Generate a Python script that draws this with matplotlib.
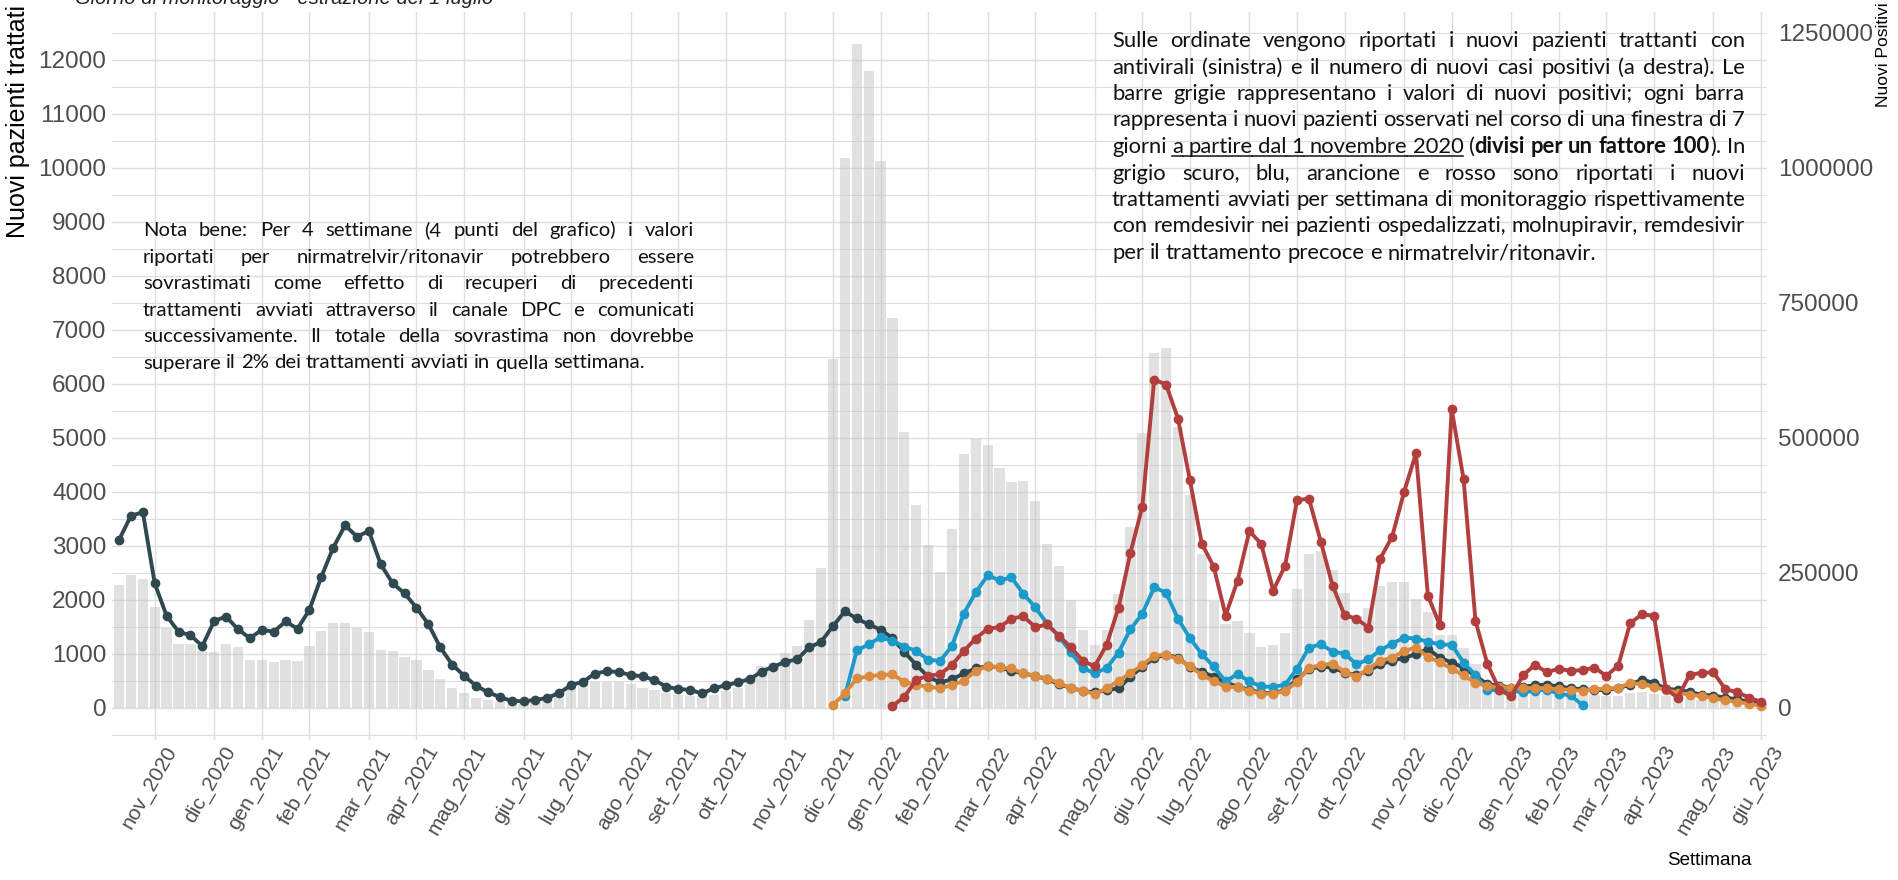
import re
import numpy as np
import matplotlib
matplotlib.use("Agg")
import matplotlib.pyplot as plt
import matplotlib.transforms as mtransforms
from matplotlib.lines import Line2D

# ---- data ----
month_ticks = [3, 8, 12, 16, 21, 25, 29, 34, 38, 43, 47, 51, 56, 60, 64, 68, 73, 77,
               82, 86, 90, 95, 99, 103, 108, 112, 117, 121, 125, 129, 134, 138]
month_labels = ["nov_2020", "dic_2020", "gen_2021", "feb_2021", "mar_2021", "apr_2021",
                "mag_2021", "giu_2021", "lug_2021", "ago_2021", "set_2021", "ott_2021",
                "nov_2021", "dic_2021", "gen_2022", "feb_2022", "mar_2022", "apr_2022",
                "mag_2022", "giu_2022", "lug_2022", "ago_2022", "set_2022", "ott_2022",
                "nov_2022", "dic_2022", "gen_2023", "feb_2023", "mar_2023", "apr_2023",
                "mag_2023", "giu_2023"]

# weekly new positives divided by 100 (weeks 0..138)
nuovi_positivi = [
    2265, 2450, 2390, 1870, 1480, 1175, 1175, 1045, 1035, 1185,
    1125, 885, 885, 850, 875, 865, 1140, 1420, 1575, 1570,
    1480, 1405, 1060, 1050, 940, 875, 690, 525, 365, 262,
    185, 145, 105, 80, 70, 90, 150, 225, 365, 450,
    470, 465, 478, 440, 370, 327, 265, 228, 210, 210,
    230, 310, 365, 570, 775, 820, 1020, 1140, 1620, 2590,
    6460, 10170, 12280, 11780, 10120, 7220, 5110, 3750, 3010, 2520,
    3300, 4690, 4980, 4870, 4440, 4180, 4190, 3820, 3030, 2615,
    1990, 1444, 1167, 1437, 2100, 3345, 5080, 6560, 6665, 5200,
    3935, 2850, 1975, 1545, 1605, 1390, 1130, 1160, 1390, 2190,
    2835, 2900, 2545, 2117, 1700, 1840, 2255, 2325, 2320, 2010,
    1775, 1346, 1343, 1095, 810, 480, 370, 340, 309, 290,
    278, 265, 247, 247, 228, 216, 216, 265, 290, 247,
    216, 185, 154, 142, 123, 105, 93, 80, 62,
]

# remdesivir, hospitalised patients (weeks 0..138)
remdesivir_osp = [
    3105, 3550, 3620, 2300, 1700, 1405, 1340, 1140, 1605, 1685,
    1450, 1285, 1440, 1405, 1595, 1460, 1810, 2420, 2960, 3375,
    3165, 3270, 2650, 2300, 2115, 1850, 1545, 1115, 795, 590,
    405, 285, 195, 123, 117, 142, 180, 272, 417, 481,
    630, 673, 660, 602, 580, 509, 385, 346, 327, 262,
    358, 414, 470, 525, 667, 759, 846, 895, 1115, 1215,
    1510, 1780, 1650, 1540, 1443, 1287, 1027, 791, 571, 465,
    522, 633, 724, 770, 743, 680, 633, 587, 524, 435,
    363, 310, 280, 324, 355, 571, 755, 918, 981, 926,
    748, 660, 574, 463, 389, 327, 278, 265, 327, 525,
    710, 759, 741, 648, 599, 679, 802, 864, 926, 988,
    1085, 926, 833, 741, 586, 432, 407, 370, 386, 414,
    426, 392, 361, 340, 327, 325, 361, 426, 518, 457,
    352, 327, 290, 238, 222, 185, 154, 105, 62,
]

# molnupiravir (weeks 61..123)
molnupiravir_start = 61
molnupiravir = [
    208, 1058, 1170, 1302, 1233, 1131, 1048, 888, 863,
    1139, 1739, 2135, 2448, 2356, 2411, 2107, 1857, 1554, 1316,
    1025, 732, 634, 732, 1020, 1449, 1740, 2226, 2128, 1641,
    1287, 991, 761, 484, 622, 485, 392, 383, 426, 717,
    1111, 1173, 1037, 1000, 802, 895, 1062, 1185, 1296, 1278,
    1220, 1170, 1163, 833, 600, 318, 334, 309, 284, 309,
    334, 256, 228, 43,
]

# remdesivir, early treatment (weeks 60..138)
remdesivir_precoce_start = 60
remdesivir_precoce = [
    48, 262, 539, 578, 605, 616, 476, 423, 388, 355,
    420, 494, 680, 770, 743, 724, 633, 587, 533, 463,
    355, 310, 256, 355, 494, 641, 786, 962, 981, 899,
    771, 599, 494, 383, 383, 309, 259, 259, 309, 475,
    741, 784, 815, 660, 568, 722, 864, 926, 1049, 1111,
    935, 840, 722, 595, 460, 401, 377, 370, 361, 361,
    361, 340, 327, 309, 340, 355, 364, 457, 432, 383,
    327, 278, 238, 216, 176, 133, 108, 71, 31,
]

# nirmatrelvir/ritonavir (weeks 65..138)
nirmatrelvir_start = 65
nirmatrelvir = [
    27, 200, 513, 593, 618,
    789, 1048, 1278, 1461, 1489, 1646, 1693, 1489, 1540, 1327,
    1117, 864, 762, 1165, 1848, 2865, 3720, 6075, 5982, 5348,
    4212, 3036, 2609, 1705, 2348, 3271, 3026, 2166, 2628, 3838,
    3870, 3074, 2253, 1710, 1648, 1481, 2759, 3167, 3994, 4710,
    2074, 1528, 5525, 4228, 1605, 808, 335, 210, 599, 793,
    654, 722, 679, 695, 741, 586, 778, 1562, 1730, 1698,
    340, 185, 608, 642, 654, 340, 284, 185, 105,
]

note_right = [
    "Sulle ordinate vengono riportati i nuovi pazienti trattanti con",
    "antivirali (sinistra) e il numero di nuovi casi positivi (a destra). Le",
    "barre grigie rappresentano i valori di nuovi positivi; ogni barra",
    "rappresenta i nuovi pazienti osservati nel corso di una finestra di 7",
    "giorni {u:a partire dal 1 novembre 2020} ({b:divisi per un fattore 100}). In",
    "grigio scuro, blu, arancione e rosso sono riportati i nuovi",
    "trattamenti avviati per settimana di monitoraggio rispettivamente",
    "con remdesivir nei pazienti ospedalizzati, molnupiravir, remdesivir",
    "per il trattamento precoce e nirmatrelvir/ritonavir.",
]
note_left = [
    "Nota bene: Per 4 settimane (4 punti del grafico) i valori",
    "riportati per nirmatrelvir/ritonavir potrebbero essere",
    "sovrastimati come effetto di recuperi di precedenti",
    "trattamenti avviati attraverso il canale DPC e comunicati",
    "successivamente. Il totale della sovrastima non dovrebbe",
    "superare il 2% dei trattamenti avviati in quella settimana.",
]

# ---- figure ----
W, H = 1899, 880
fig = plt.figure(figsize=(W / 100, H / 100), dpi=100)
ax = fig.add_axes([112 / W, (H - 740) / H, (1767 - 112) / W, (740 - 12) / H])

axis_font = "Liberation Sans"
tick_col = "#4D4D4D"
grid_col = "#DEDEDE"

weeks = np.arange(len(nuovi_positivi))
ax.bar(weeks, nuovi_positivi, width=0.86, color="#C4C4C4", alpha=0.5, zorder=2, linewidth=0)


def series(start, vals, color, z):
    x = np.arange(start, start + len(vals))
    ax.plot(x, vals, "-o", color=color, lw=2.8, ms=6, zorder=z)


series(0, remdesivir_osp, "#304850", 3)
series(molnupiravir_start, molnupiravir, "#1C9ACA", 4)
series(remdesivir_precoce_start, remdesivir_precoce, "#DB8C40", 5)
series(nirmatrelvir_start, nirmatrelvir, "#B03F3D", 6)

ax.set_xlim(-0.59, 138.5)
ax.set_ylim(-600, 12880)
ax.set_yticks(np.arange(0, 12001, 1000))
ax.set_yticks(np.arange(-500, 12501, 1000), minor=True)
ax.set_xticks(month_ticks)
ax.set_xticklabels(month_labels, rotation=60, ha="right", va="top",
                   rotation_mode="anchor")
ax.grid(which="major", color=grid_col, lw=1.0, zorder=0)
ax.grid(which="minor", axis="y", color=grid_col, lw=0.8, zorder=0)
ax.set_axisbelow(True)
ax.tick_params(axis="both", which="both", length=0, colors=tick_col)
ax.tick_params(axis="y", pad=4, labelsize=17.5)
ax.tick_params(axis="x", pad=2, labelsize=15)
shift = mtransforms.ScaledTranslation(9 / 100, 0, fig.dpi_scale_trans)
for lab in ax.get_xticklabels():
    lab.set_family(axis_font)
    lab.set_transform(lab.get_transform() + shift)
for lab in ax.get_yticklabels():
    lab.set_family(axis_font)
for s in ax.spines.values():
    s.set_visible(False)

ax2 = ax.twinx()
ax2.set_ylim(-600 * 100, 12880 * 100)
ax2.set_yticks(np.arange(0, 1250001, 250000))
ax2.set_yticklabels([str(v) for v in range(0, 1250001, 250000)])
ax2.tick_params(axis="y", length=0, colors=tick_col, labelsize=17.5, pad=8)
for lab in ax2.get_yticklabels():
    lab.set_family(axis_font)
for s in ax2.spines.values():
    s.set_visible(False)

fig.text(18 / W, 1 - 5 / H, "Nuovi pazienti trattati", rotation=90, ha="center",
         va="top", fontsize=18, family=axis_font, color="black")
fig.text(1884 / W, 1 - 2 / H, "Nuovi Positivi", rotation=90, ha="center",
         va="top", fontsize=12.5, family=axis_font, color="black")
fig.text(1752 / W, (H - 860) / H, "Settimana", ha="right", va="center",
         fontsize=13.5, family=axis_font, color="black")
fig.text(75 / W, 1 - 4 / H, "Giorno di monitoraggio - estrazione del 1 luglio",
         ha="left", va="baseline", fontsize=14.5, family=axis_font, style="italic",
         color="#222222")

# ---- justified note blocks ----
renderer = fig.canvas.get_renderer()
note_font = "Lato"


def parse(line):
    segs, pos = [], 0
    for m in re.finditer(r"\{(u|b):([^}]*)\}", line):
        segs.append((line[pos:m.start()], ""))
        segs.append((m.group(2), m.group(1)))
        pos = m.end()
    segs.append((line[pos:], ""))
    words = [[]]
    for text, style in segs:
        for j, p in enumerate(text.split(" ")):
            if j > 0:
                words.append([])
            if p:
                words[-1].append((p, style))
    return [w for w in words if w]


def text_w(s, size, style):
    t = fig.text(0, 0, s, fontsize=size, family=note_font,
                 weight="bold" if style == "b" else "normal")
    w = t.get_window_extent(renderer).width
    t.remove()
    return w


def natural(words, size):
    sp = text_w("a a", size, "") - text_w("aa", size, "")
    ww = [sum(text_w(t, size, st) for t, st in w) for w in words]
    return sum(ww) + sp * (len(words) - 1)


def block(lines, x0, x1, base0, step, fit_line, fit_width):
    parsed = [parse(l) for l in lines]
    size = 10 * fit_width / natural(parsed[fit_line], 10)
    sp = text_w("a a", size, "") - text_w("aa", size, "")
    for k, words in enumerate(parsed):
        yb = (H - (base0 + k * step)) / H
        ww = [[text_w(t, size, st) for t, st in w] for w in words]
        tot = sum(sum(w) for w in ww)
        last = k == len(parsed) - 1
        gap = sp if last else (x1 - x0 - tot) / (len(words) - 1)
        x = x0
        prev_u = None
        for w, wl in zip(words, ww):
            for (t, st), wd in zip(w, wl):
                fig.text(x / W, yb, t, fontsize=size, family=note_font, va="baseline",
                         weight="bold" if st == "b" else "normal", color="#111111")
                if st == "u":
                    ux0 = prev_u if prev_u is not None else x
                    fig.add_artist(Line2D([ux0 / W, (x + wd) / W],
                                          [yb - 3.5 / H, yb - 3.5 / H],
                                          color="#111111", lw=1.1))
                x += wd
            prev_u = x if all(st == "u" for _, st in w) else None
            x += gap


block(note_right, 1112, 1745, 47, 26.5, 6, 632)
block(note_left, 143, 694, 236, 26.5, 5, 502)

fig.savefig("out.png", dpi=100)
